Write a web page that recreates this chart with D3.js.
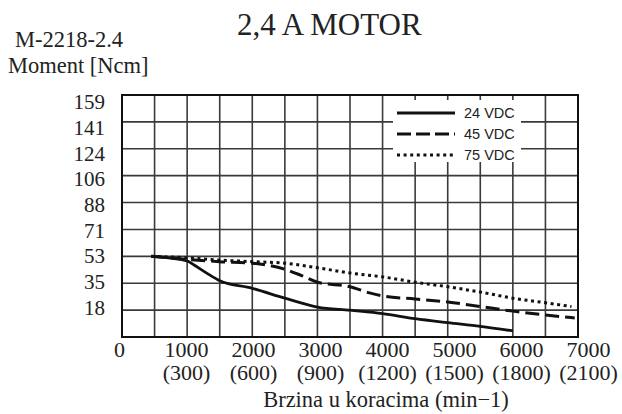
<!DOCTYPE html>
<html><head><meta charset="utf-8">
<script src="https://cdn.jsdelivr.net/npm/d3@7"></script>
<style>html,body{margin:0;padding:0;background:#fff;}</style>
</head><body>
<script>
// ---- data ----
const series24 = [[450,53],[1000,50],[1100,47.5],[1300,42],[1500,37],[2000,32],[2500,25.5],[3000,19.7],[3500,17.6],[4000,15.4],[4500,12],[5000,9.4],[5500,7],[6000,4]];
const series45 = [[450,53],[1000,51],[1500,49.5],[2000,48.5],[2500,44.5],[2750,40.5],[3000,36],[3500,33],[3800,29],[4000,27],[4500,25],[5000,23],[5500,20],[6000,17],[6500,14.5],[6950,12.5]];
const series75 = [[450,53],[1000,52],[1500,50.5],[2000,49.5],[2500,48.5],[3000,45.5],[3500,42],[4000,39.5],[4500,36],[5000,33],[5500,29.5],[6000,25.5],[6500,22.5],[6900,20]];
const seriesNames = ["24 VDC","45 VDC","75 VDC"];
const xTicks = [0,1000,2000,3000,4000,5000,6000,7000];
const xSubLabels = ["","(300)","(600)","(900)","(1200)","(1500)","(1800)","(2100)"];
const yTickLabels = ["18","35","53","71","88","106","124","141","159"];
const title = "2,4 A MOTOR";
const subtitle = "M-2218-2.4";
const yTitle = "Moment [Ncm]";
const xTitle = "Brzina u koracima (min\u22121)";

// ---- layout ----
const W = 622, H = 414;
const svg = d3.select("body").append("svg").attr("width", W).attr("height", H)
  .style("font-family", "'Liberation Serif','Times New Roman',serif");
svg.append("rect").attr("width", W).attr("height", H).attr("fill", "#fff");

const x = d3.scaleLinear().domain([0, 7000]).range([122, 578]);
const y = d3.scaleLinear().domain([0, 159]).range([337, 95]);
const xLab = d3.scaleLinear().domain([0, 7000]).range([119, 588]);
const yLab = d3.scaleLinear().domain([0, 159]).range([333, 102]);

const yGrid = d3.range(0, 10).map(k => k * 159 / 9);
const xGrid = d3.range(0, 7001, 500);

// grid
const g = svg.append("g");
g.selectAll(".vg").data(xGrid).join("line")
  .attr("x1", d => x(d)).attr("x2", d => x(d)).attr("y1", y(0)).attr("y2", y(159))
  .attr("stroke", "#3a3a3a").attr("stroke-width", 1.6);
g.selectAll(".hg").data(yGrid).join("line")
  .attr("x1", x(0)).attr("x2", x(7000)).attr("y1", d => y(d)).attr("y2", d => y(d))
  .attr("stroke", "#3a3a3a").attr("stroke-width", 1.6);
g.append("rect").attr("x", x(0)).attr("y", y(159)).attr("width", x(7000) - x(0)).attr("height", y(0) - y(159))
  .attr("fill", "none").attr("stroke", "#111").attr("stroke-width", 2);

// legend background (covers grid)
const legX = 393, legY = 100;
svg.append("rect").attr("x", legX).attr("y", legY).attr("width", 128).attr("height", 62).attr("fill", "#fff");

// lines
const line = d3.line().x(d => x(d[0])).y(d => y(d[1])).curve(d3.curveMonotoneX);
const styles = [
  {dash: null, w: 2.8},
  {dash: "14,6", w: 3},
  {dash: "3,3.6", w: 3}
];
[series24, series45, series75].forEach((s, i) => {
  svg.append("path").attr("d", line(s)).attr("fill", "none").attr("stroke", "#111")
    .attr("stroke-width", styles[i].w).attr("stroke-dasharray", styles[i].dash);
});

// legend
const leg = svg.append("g");
seriesNames.forEach((n, i) => {
  const ly = 113 + i * 21;
  leg.append("line").attr("x1", 397).attr("x2", 455).attr("y1", ly).attr("y2", ly)
    .attr("stroke", "#111").attr("stroke-width", styles[i].w)
    .attr("stroke-dasharray", i === 1 ? "14,5" : styles[i].dash);
  leg.append("text").attr("x", 464).attr("y", ly).attr("dy", "0.36em")
    .style("font-family", "'Liberation Sans',Arial,sans-serif").style("font-size", "14.5px")
    .attr("fill", "#222").text(n);
});

// y axis labels
const yAx = d3.axisLeft(yLab).tickValues(yGrid.slice(1)).tickSize(0).tickPadding(0)
  .tickFormat((d, i) => yTickLabels[i]);
const yg = svg.append("g").attr("transform", "translate(105,0)").call(yAx);
yg.select(".domain").remove();
yg.selectAll("text").style("font-family", "'Liberation Serif',serif").style("font-size", "21px").attr("fill", "#222");

// x axis labels
const xAx = d3.axisBottom(xLab).tickValues(xTicks).tickSize(0).tickPadding(0).tickFormat(d => d);
const xg = svg.append("g").attr("transform", "translate(0,341)").call(xAx);
xg.select(".domain").remove();
xg.selectAll("text").style("font-family", "'Liberation Serif',serif").style("font-size", "22px").attr("fill", "#222");

const xAx2 = d3.axisBottom(xLab).tickValues(xTicks).tickSize(0).tickPadding(0).tickFormat((d, i) => xSubLabels[i]);
const xg2 = svg.append("g").attr("transform", "translate(0,364)").call(xAx2);
xg2.select(".domain").remove();
xg2.selectAll("text").style("font-family", "'Liberation Serif',serif").style("font-size", "22px").attr("fill", "#222");

// titles
svg.append("text").attr("x", 386).attr("y", 407).attr("text-anchor", "middle")
  .style("font-size", "22.5px").attr("fill", "#222").text(xTitle);
svg.append("text").attr("x", 237).attr("y", 35).style("font-size", "31px").attr("fill", "#222").text(title);
svg.append("text").attr("x", 15).attr("y", 47).style("font-size", "22.5px").attr("fill", "#222").text(subtitle);
svg.append("text").attr("x", 8).attr("y", 73).style("font-size", "22.5px").attr("fill", "#222").text(yTitle);
</script>
</body></html>
